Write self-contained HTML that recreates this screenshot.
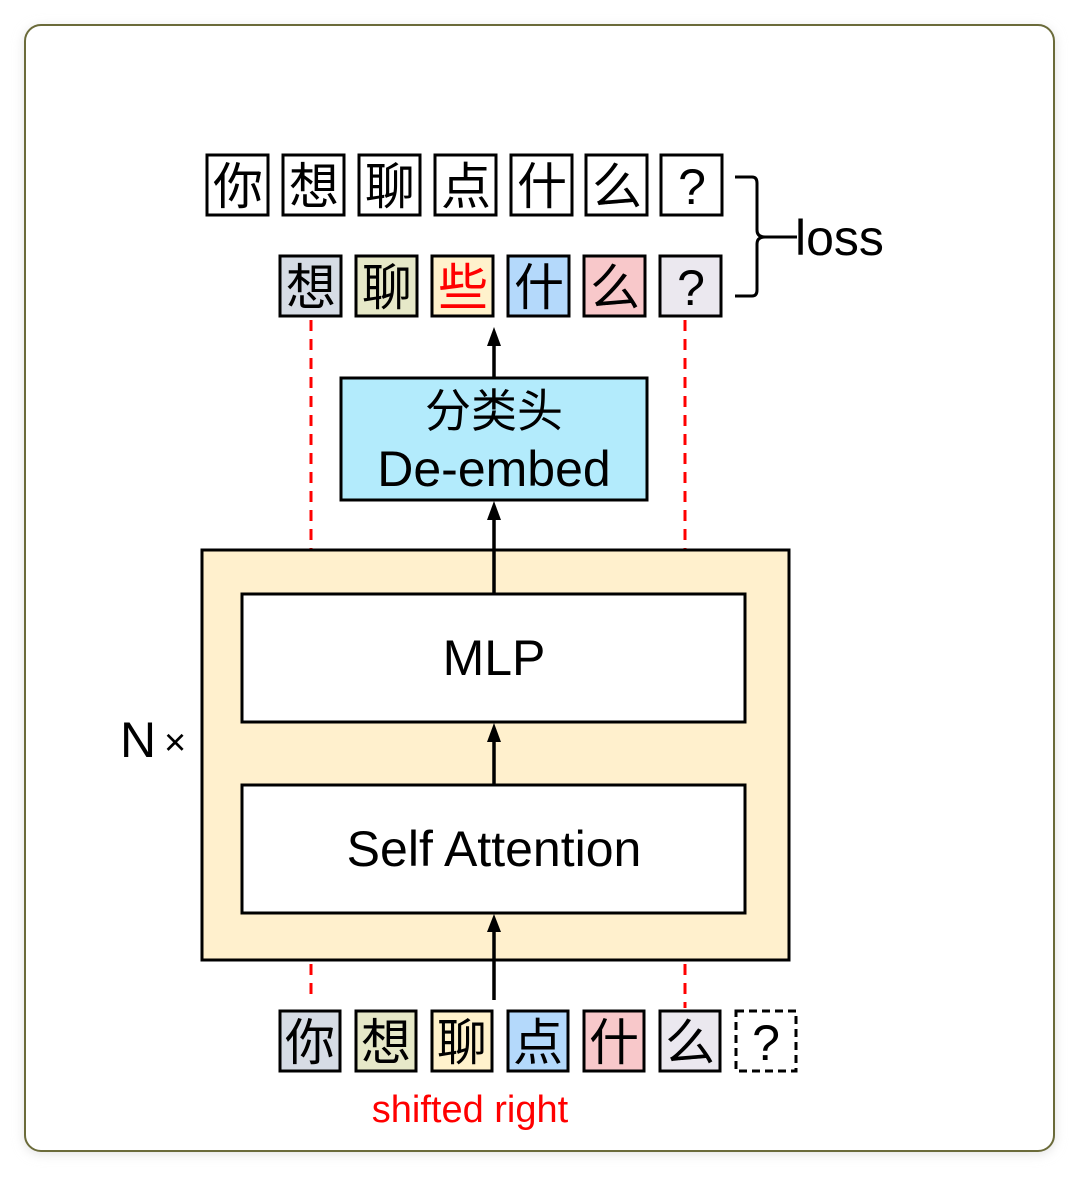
<!DOCTYPE html>
<html><head><meta charset="utf-8"><style>
html,body{margin:0;padding:0;background:#fff}
svg{display:block}
text{font-family:"Liberation Sans","Noto Sans CJK SC",sans-serif}
</style></head><body>
<svg width="1080" height="1177" viewBox="0 0 1080 1177" xmlns="http://www.w3.org/2000/svg">
<defs>
<filter id="sh" x="-5%" y="-5%" width="110%" height="110%"><feGaussianBlur stdDeviation="6"/></filter>
<marker id="ah" markerWidth="10" markerHeight="12" refX="5" refY="0" orient="auto" markerUnits="userSpaceOnUse"><path d="M0,0 L5,-16 L10,0 Z" fill="#000" transform="translate(0,0)"/></marker>
</defs>
<rect x="25" y="28" width="1029" height="1125" rx="16" fill="#ddd" filter="url(#sh)"/>
<rect x="25" y="25" width="1029" height="1126" rx="16" fill="#fff" stroke="#6b6b3a" stroke-width="2"/>

<!-- top row -->
<g stroke="#000" stroke-width="3" fill="#fff">
<rect x="207" y="155" width="61" height="60"/><rect x="283" y="155" width="61" height="60"/>
<rect x="359" y="155" width="61" height="60"/><rect x="435" y="155" width="61" height="60"/>
<rect x="511" y="155" width="61" height="60"/><rect x="586" y="155" width="61" height="60"/>
<rect x="661" y="155" width="61" height="60"/>
</g>
<g font-size="50" text-anchor="middle">
<text x="238" y="204">你</text><text x="314" y="204">想</text><text x="390" y="204">聊</text>
<text x="466" y="204">点</text><text x="542" y="204">什</text><text x="617" y="204">么</text>
<text x="692" y="204">?</text>
</g>

<!-- second row -->
<g stroke="#000" stroke-width="3">
<rect x="280" y="256" width="61" height="60" fill="#d6dce5"/>
<rect x="356" y="256" width="61" height="60" fill="#e6e8c8"/>
<rect x="432" y="256" width="61" height="60" fill="#fff2cc"/>
<rect x="508" y="256" width="61" height="60" fill="#b4d9fb"/>
<rect x="584" y="256" width="61" height="60" fill="#f8c8ca"/>
<rect x="660" y="256" width="61" height="60" fill="#ebe8ef"/>
</g>
<g font-size="50" text-anchor="middle">
<text x="311" y="305">想</text><text x="387" y="305">聊</text><text x="463" y="305" fill="#f00">些</text>
<text x="539" y="305">什</text><text x="615" y="305">么</text><text x="691" y="305">?</text>
</g>

<!-- bracket -->
<path d="M735,177 L752,177 Q757,177 757,183 L757,230 Q757,237 765,237 Q757,237 757,244 L757,290 Q757,296 752,296 L735,296" fill="none" stroke="#000" stroke-width="3"/>
<line x1="762" y1="237" x2="797" y2="237" stroke="#000" stroke-width="3"/>
<text x="795" y="255" font-size="50">loss</text>

<!-- red dashes -->
<g stroke="#f00" stroke-width="3" stroke-dasharray="11,8">
<line x1="311" y1="320" x2="311" y2="549"/>
<line x1="685" y1="320" x2="685" y2="549"/>
<line x1="311" y1="964" x2="311" y2="1002"/>
<line x1="685" y1="964" x2="685" y2="1008"/>
</g>

<!-- de-embed -->
<rect x="341" y="378" width="306" height="122" fill="#b3ebfc" stroke="#000" stroke-width="3"/>
<text x="494" y="427" font-size="46" text-anchor="middle">分类头</text>
<text x="494" y="486" font-size="50" text-anchor="middle">De-embed</text>

<!-- big block -->
<rect x="202" y="550" width="587" height="410" fill="#fff0cd" stroke="#000" stroke-width="3"/>
<rect x="242" y="594" width="503" height="128" fill="#fff" stroke="#000" stroke-width="3"/>
<text x="494" y="675" font-size="50" text-anchor="middle">MLP</text>
<rect x="242" y="785" width="503" height="128" fill="#fff" stroke="#000" stroke-width="3"/>
<text x="494" y="866" font-size="50" text-anchor="middle">Self Attention</text>
<text x="120" y="757" font-size="50">N</text>
<text x="164" y="755" font-size="38">×</text>

<!-- arrows -->
<g stroke="#000" stroke-width="3.5">
<line x1="494" y1="1000" x2="494" y2="930"/>
<line x1="494" y1="785" x2="494" y2="740"/>
<line x1="494" y1="593" x2="494" y2="518"/>
<line x1="494" y1="378" x2="494" y2="344"/>
</g>
<g fill="#000">
<path d="M487,932 L494,914 L501,932 Z"/>
<path d="M487,742 L494,723 L501,742 Z"/>
<path d="M487,520 L494,501 L501,520 Z"/>
<path d="M487,346 L494,327 L501,346 Z"/>
</g>

<!-- bottom row -->
<g stroke="#000" stroke-width="3">
<rect x="280" y="1011" width="60" height="60" fill="#d6dce5"/>
<rect x="356" y="1011" width="60" height="60" fill="#e6e8c8"/>
<rect x="432" y="1011" width="60" height="60" fill="#fff2cc"/>
<rect x="508" y="1011" width="60" height="60" fill="#b4d9fb"/>
<rect x="584" y="1011" width="60" height="60" fill="#f8c8ca"/>
<rect x="660" y="1011" width="60" height="60" fill="#ebe8ef"/>
<rect x="736" y="1011" width="60" height="60" fill="#fff" stroke-dasharray="8,5"/>
</g>
<g font-size="50" text-anchor="middle">
<text x="310" y="1060">你</text><text x="386" y="1060">想</text><text x="462" y="1060">聊</text>
<text x="538" y="1060">点</text><text x="614" y="1060">什</text><text x="690" y="1060">么</text>
<text x="766" y="1060">?</text>
</g>
<text x="470" y="1122" font-size="38" fill="#f00" text-anchor="middle">shifted right</text>
</svg>
</body></html>
